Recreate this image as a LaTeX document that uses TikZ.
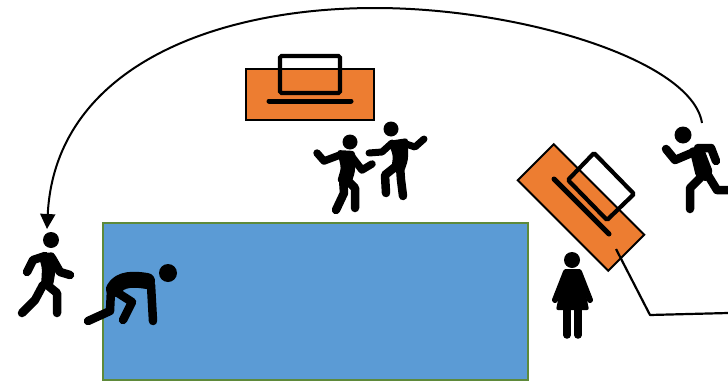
\documentclass[tikz,border=0pt]{standalone}
\usetikzlibrary{arrows.meta, positioning}
\definecolor{poolblue}{HTML}{5B9BD5}
\definecolor{poolgreen}{HTML}{5E8A3A}
\definecolor{tableorange}{HTML}{ED7D31}

\begin{document}
\begin{tikzpicture}[
    x=1pt, y=-1pt,
    pool/.style={
        rectangle,
        draw=poolgreen, fill=poolblue,
        line width=2.6pt,
        minimum width=425pt,
        minimum height=157pt
    },
    desk/.style={
        rectangle,
        draw=black, fill=tableorange,
        line width=2pt,
        minimum width=128pt,
        minimum height=51pt
    },
    limb/.style={line width=8.5pt, line cap=round, line join=round},
    torso/.style={fill=black, rounded corners=3pt},
    screen/.style={line width=4.2pt, rounded corners=1.5pt},
    keyboard/.style={line width=5pt, line cap=round},
    wire/.style={line width=2.2pt, line join=round},
    arrow/.style={-{Triangle[length=15pt,width=15pt]}, line width=2pt}
]
\useasboundingbox (0,0) rectangle (728,383);

% Nodes
\node[pool] (pool) at (315.5,301.5) {};
\node[desk] (desk1) at (310,94.5) {};
\node[desk, rotate=-45] (desk2) at (581,207.5) {};

% Coordinates
\coordinate (runnerTop) at (702,123);
\coordinate (walkerTop) at (47,229);
\coordinate (deskEnd) at (616,249);
\coordinate (wireBend) at (650,315);
\coordinate (wireEnd) at (728,313);

% Laptops
\draw[screen] (280,93) -- (280,56) -- (340,56) -- (340,93) -- cycle;
\draw[keyboard] (269,101) -- (351,101);
\draw[screen] (594,153) -- (634,194) -- (607,220) -- (568,180) -- cycle;
\draw[keyboard] (554,179) -- (609,234);

% Walker
\fill (51,240) circle (8);
\fill[torso] (38,254) -- (54,252) -- (57,262) -- (53,286) -- (41,288) -- (42,268) -- cycle;
\draw[limb] (45,256) -- (33,260) -- (27,272);
\draw[limb] (52,258) -- (60,272) -- (70,275);
\draw[limb] (43,285) -- (35,300) -- (22,313);
\draw[limb] (46,284) -- (57,293) -- (57,313);

% Crouching runner
\fill (168,273) circle (9);
\draw[limb, line width=16pt] (114,289) .. controls (120,278) and (135,279) .. (147,281);
\draw[limb] (151,285) -- (153,321);
\draw[limb] (111,290) -- (110,311) -- (88,321);
\draw[limb] (118,293) -- (132,302) -- (123,320);

% Dancers
\fill (350,142) circle (7.5);
\fill[torso] (337,150) -- (355,151) -- (355,172) -- (351,184) -- (337,182) -- (341,168) -- cycle;
\draw[limb, line width=7.5pt] (340,155) -- (324,161) -- (317,153);
\draw[limb, line width=7.5pt] (352,157) -- (362,170) -- (372,164);
\draw[limb] (343,178) -- (344,193) -- (336,210);
\draw[limb] (347,180) -- (355,188) -- (355,208);

\fill (391,129) circle (7.5);
\fill[torso] (388,141) -- (408,138) -- (408,160) -- (404,172) -- (391,172) -- (393,156) -- cycle;
\draw[limb, line width=7pt] (392,143) -- (382,152) -- (369,153);
\draw[limb, line width=7pt] (403,143) -- (415,147) -- (424,139);
\draw[limb] (395,167) -- (385,175) -- (386,193);
\draw[limb] (400,166) -- (401,180) -- (403,196);

% Woman
\fill (572,260) circle (8);
\fill[rounded corners=2pt] (564,269) -- (581,269) -- (585,290) -- (589,310) -- (556,310) -- (560,290) -- cycle;
\draw[limb, line width=6pt] (566,272) -- (555,300);
\draw[limb, line width=6pt] (579,272) -- (590,300);
\draw[limb, line width=7.5pt] (567,308) -- (567,335);
\draw[limb, line width=7.5pt] (578,308) -- (578,335);

% Runner
\fill (683,135) circle (8.5);
\fill[torso] (689,148) -- (703,146) -- (713,172) -- (706,182) -- (696,177) -- cycle;
\draw[limb] (694,152) -- (675,160) -- (666,149);
\draw[limb] (698,148) -- (711,148) -- (716,161);
\draw[limb, line cap=butt] (706,172) -- (717,190) -- (728,190);
\draw[limb] (700,178) -- (690,188) -- (690,209);

% Arrows
\draw[arrow] (runnerTop) .. controls (692,60) and (520,8) .. (375,8)
    .. controls (210,8) and (55,70) .. (walkerTop);
\draw[wire] (deskEnd) -- (wireBend) -- (wireEnd);

\end{tikzpicture}
\end{document}
